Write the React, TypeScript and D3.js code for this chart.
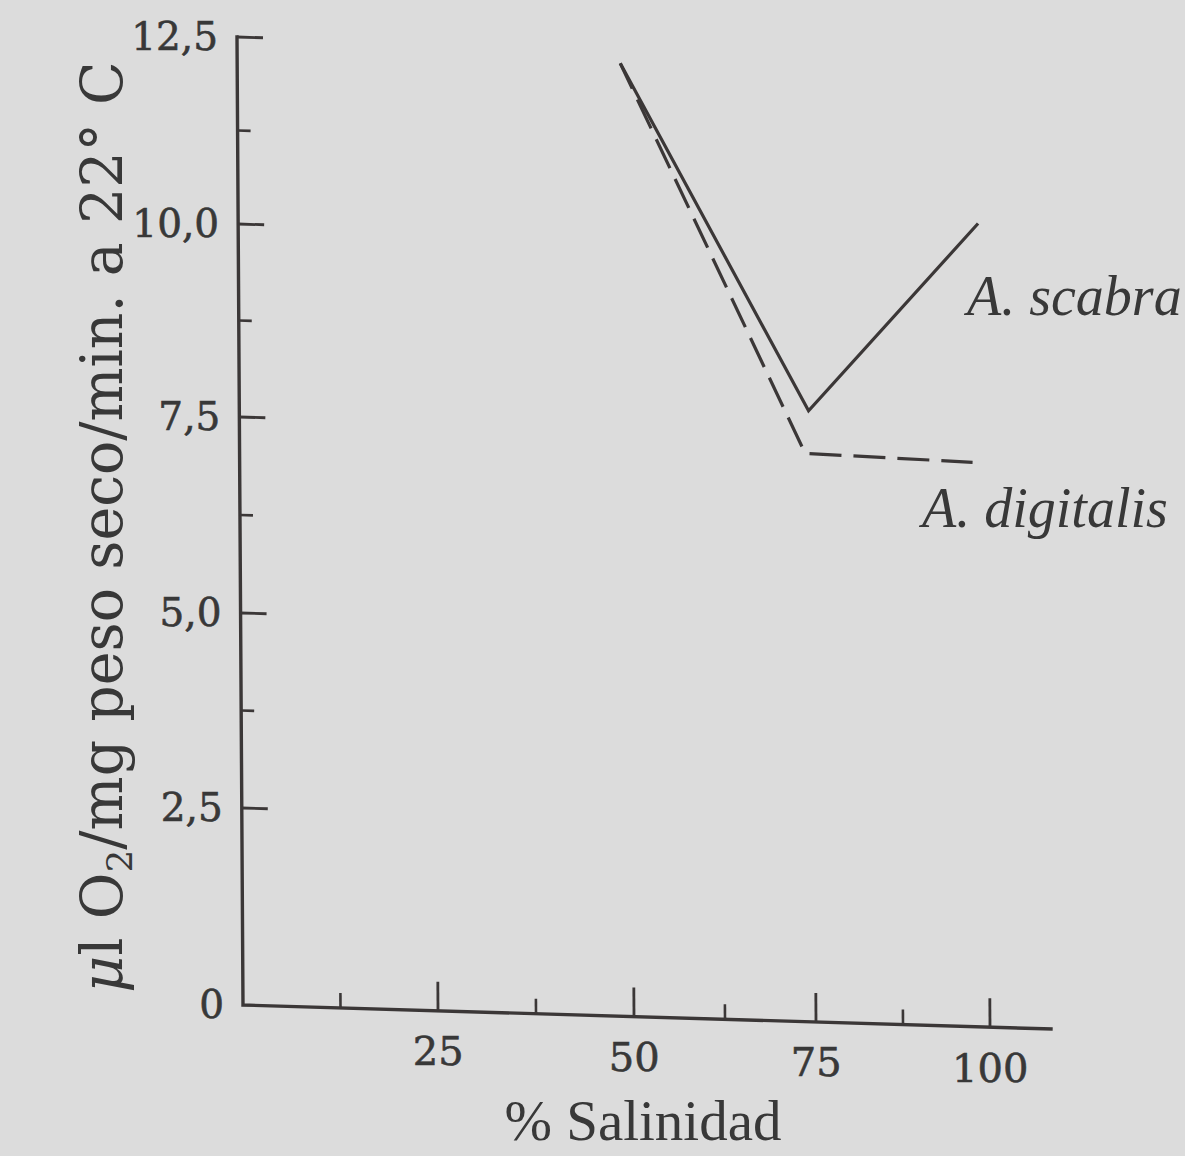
import React from "react";
import * as d3 from "d3";

// ---- data ----
const salinityScabra = [49, 74.5, 99];
const rateScabra = [12.3, 7.8, 10.3];
const salinityDigitalis = [49, 74, 98];
const rateDigitalis = [12.3, 7.25, 7.2];

const xMajorTicks = [25, 50, 75, 100];
const xMinorTicks = [12.5, 37.5, 62.5, 87.5];
const yMajorTicks = [0, 2.5, 5, 7.5, 10, 12.5];
const yMinorTicks = [1.25, 3.75, 6.25, 8.75, 11.25];

const xTitle = "% Salinidad";
const seriesNames = ["A. scabra", "A. digitalis"];

const W = 1185;
const H = 1156;
const X0 = 243;
const Y0 = 1005;
// slight slant of the printed axes
const K = 0.0297; // x-axis slope (descends to the right)
const C = 0.0062; // y-axis lean

const ink = "#3b3737";
const textInk = "#383838";

// polylinear scales following the printed tick spacing
const x = d3.scaleLinear().domain([0, 25, 50, 75, 100]).range([X0, 438, 634, 816, 990]);
const y = d3.scaleLinear().domain([0, 2.5, 5, 7.5, 10, 12.5]).range([Y0, 808, 613, 417, 224, 37]);

function proj(px: number, py: number): [number, number] {
  const dx = px - X0;
  const dy = py - Y0;
  return [X0 + dx + C * dy, Y0 + K * dx + dy];
}

const line = d3
  .line<[number, number]>()
  .x((d) => proj(x(d[0]), y(d[1]))[0])
  .y((d) => proj(x(d[0]), y(d[1]))[1]);

function seg(a: [number, number], b: [number, number]) {
  const p = proj(a[0], a[1]);
  const q = proj(b[0], b[1]);
  return `M${p[0]},${p[1]}L${q[0]},${q[1]}`;
}

export default function App() {
  const scabra = salinityScabra.map((s, i) => [s, rateScabra[i]] as [number, number]);
  const digitalis = salinityDigitalis.map((s, i) => [s, rateDigitalis[i]] as [number, number]);

  const axisPath =
    seg([X0, y(12.5)], [X0, Y0]) + seg([X0, Y0], [1051, Y0]);

  return (
    <svg
      width={W}
      height={H}
      style={{ position: "absolute", left: 0, top: 0, background: "#dcdcdc" }}
    >
      <rect x={0} y={0} width={W} height={H} fill="#dcdcdc" />

      {/* axes */}
      <path d={axisPath} stroke={ink} strokeWidth={3.4} fill="none" strokeLinecap="square" />

      {/* y ticks */}
      {yMajorTicks.filter((t) => t > 0).map((t) => (
        <path key={"ym" + t} d={seg([X0, y(t)], [X0 + 26, y(t)])} stroke={ink} strokeWidth={2.8} />
      ))}
      {yMinorTicks.filter((t) => t > 2).map((t) => (
        <path key={"yn" + t} d={seg([X0, y(t)], [X0 + 13, y(t)])} stroke={ink} strokeWidth={2.6} />
      ))}

      {/* x ticks */}
      {xMajorTicks.map((t) => (
        <path key={"xm" + t} d={seg([x(t), Y0], [x(t), Y0 - 29])} stroke={ink} strokeWidth={2.8} />
      ))}
      {xMinorTicks.map((t) => (
        <path key={"xn" + t} d={seg([x(t), Y0], [x(t), Y0 - 15])} stroke={ink} strokeWidth={2.6} />
      ))}

      {/* y tick labels */}
      {yMajorTicks.map((t) => {
        const p = proj(X0 - 19, y(t));
        return (
          <text
            key={"yl" + t}
            x={p[0]}
            y={p[1]}
            dy="0.36em"
            textAnchor="end"
            fontFamily="DejaVu Serif"
            fontSize={39}
            fill={textInk}
            stroke={textInk}
            strokeWidth={0.6}
          >
            {t === 0 ? "0" : t.toFixed(1).replace(".", ",")}
          </text>
        );
      })}

      {/* x tick labels */}
      {xMajorTicks.map((t) => {
        const p = proj(x(t), Y0 + 40);
        return (
          <text
            key={"xl" + t}
            x={p[0]}
            y={p[1]}
            dy="0.36em"
            textAnchor="middle"
            fontFamily="DejaVu Serif"
            fontSize={40}
            fill={textInk}
            stroke={textInk}
            strokeWidth={0.6}
          >
            {t}
          </text>
        );
      })}

      {/* series */}
      <path d={line(scabra) || ""} stroke={ink} strokeWidth={3.2} fill="none" strokeLinejoin="miter" />
      <path
        d={line(digitalis) || ""}
        stroke={ink}
        strokeWidth={3.2}
        fill="none"
        strokeDasharray="32 12"
        strokeDashoffset={-40}
      />

      {/* series labels */}
      <text x={967} y={315} fontFamily="Liberation Serif" fontStyle="italic" fontSize={56} fill={textInk}>
        {seriesNames[0]}
      </text>
      <text x={922} y={527} fontFamily="Liberation Serif" fontStyle="italic" fontSize={56} fill={textInk}>
        {seriesNames[1]}
      </text>

      {/* x title */}
      <text x={643} y={1140} textAnchor="middle" fontFamily="Liberation Serif" fontSize={57} fill={textInk}>
        {xTitle}
      </text>

      {/* y title */}
      <text
        transform="translate(122,527) rotate(-90)"
        textAnchor="middle"
        fontFamily="DejaVu Serif"
        fontSize={57}
        fill={textInk}
      >
        <tspan fontStyle="italic">μ</tspan>
        <tspan>l O</tspan>
        <tspan fontSize={36} dy={10}>2</tspan>
        <tspan dy={-10}>/mg peso seco/min. a 22° C</tspan>
      </text>
    </svg>
  );
}
